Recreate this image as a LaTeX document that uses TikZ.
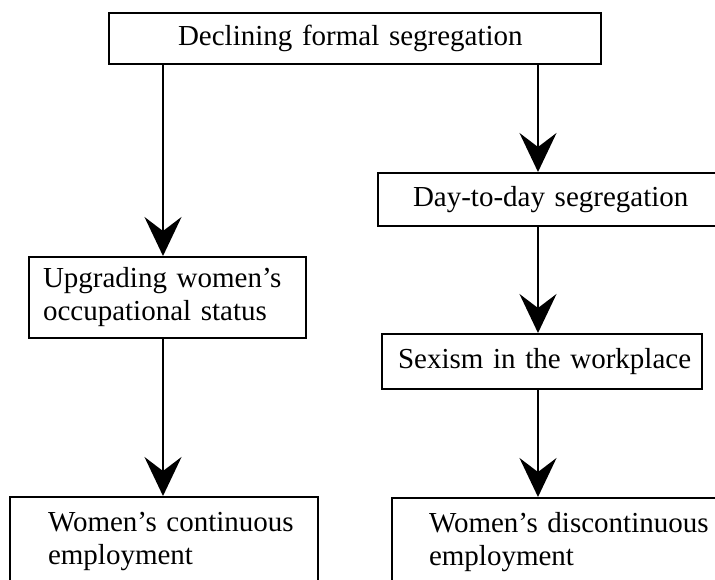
\documentclass[tikz,border=0pt]{standalone}
\usepackage{fontspec}
\setmainfont{Liberation Serif}
\usetikzlibrary{arrows.meta}
\begin{document}
\begin{tikzpicture}[x=1pt,y=-1pt,
  box/.style={draw, line width=2pt, rectangle, inner xsep=0pt, inner ysep=0pt,
    anchor=north west, align=left, font=\fontsize{29}{33}\selectfont},
  oneline/.style={box, text height=20pt, text depth=6.5pt},
  arr/.style={line width=2pt, -{Stealth[length=39pt,width=37pt,inset=14pt]}}]
\useasboundingbox (0,0) rectangle (715,579);
\clip (0,0) rectangle (715,579);
\node[oneline, text width=492pt, minimum height=51pt] (top) at (108,12)
  {\hspace*{69pt}Declining formal segregation};
\node[oneline, text width=380pt, minimum height=53pt] (day) at (377,172)
  {\hspace*{35pt}Day-to-day segregation};
\node[box, text width=277pt, minimum height=81pt] (upg) at (28,256)
  {\hspace*{14pt}Upgrading women’s\\\hspace*{14pt}occupational status};
\node[oneline, text width=320pt, minimum height=55pt] (sex) at (381,333)
  {\hspace*{16pt}Sexism in the workplace};
\node[box, text width=308pt, minimum height=88pt] (cont) at (9,496)
  {\hspace*{38pt}Women’s continuous\\\hspace*{38pt}employment};
\node[box, text width=380pt, minimum height=88pt] (disc) at (391,497)
  {\hspace*{37pt}Women’s discontinuous\\\hspace*{37pt}employment};
\coordinate (lx) at (163,0);
\coordinate (rx) at (538,0);
\draw[arr] (top.south -| lx) -- (upg.north -| lx);
\draw[arr] (upg.south -| lx) -- (cont.north -| lx);
\draw[arr] (top.south -| rx) -- (day.north -| rx);
\draw[arr] (day.south -| rx) -- (sex.north -| rx);
\draw[arr] (sex.south -| rx) -- (disc.north -| rx);
\end{tikzpicture}
\end{document}
